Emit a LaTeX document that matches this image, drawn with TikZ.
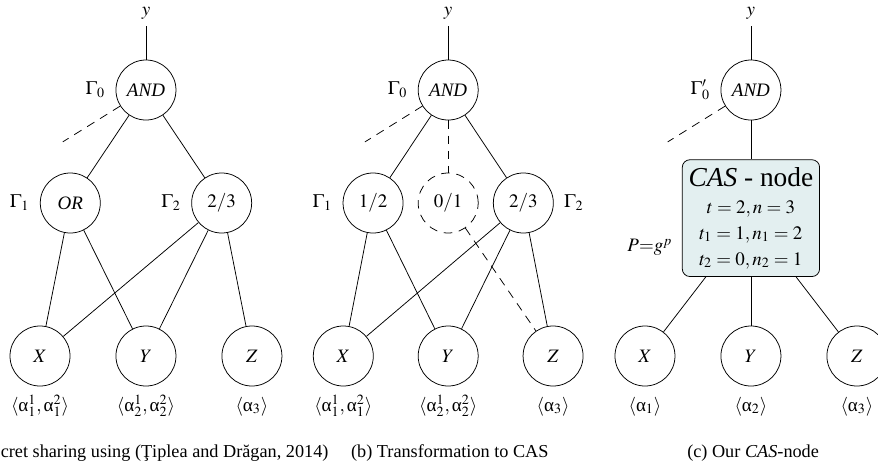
\documentclass[tikz,border=0pt]{standalone}
\usepackage{mathptmx}
\usepackage{fontspec}
\setmainfont{Liberation Serif}
\usepackage{tikz}
\usetikzlibrary{shapes, arrows}
\definecolor{casfill}{RGB}{227,239,240}
\newcommand{\ualpha}{\mbox{α}}
\tikzstyle{gate} = [circle, minimum size=1.11cm, inner sep=0pt, text centered, draw=black]
\tikzstyle{dgate} = [gate, dash pattern=on 4.5pt off 3.5pt]
\tikzstyle{cas} = [rectangle, rounded corners, minimum width=2.52cm, minimum height=2.16cm, align=center, draw=black, fill=casfill]
\tikzstyle{edge} = [thin]
\tikzstyle{cut} = [thin, dash pattern=on 4.5pt off 3.5pt]
\tikzstyle{share} = [anchor=base, label distance=13pt]
\tikzstyle{caption} = [anchor=base, font=\fontsize{9.6}{11}\selectfont]

\begin{document}
\begin{tikzpicture}[node distance=2.09cm]
\useasboundingbox (0,0) rectangle (16.24,-8.73);

% (a)
\node (and1) [gate, label={[label distance=2pt]left:$\Gamma_0$}] at (2.70,-1.665) {\textit{AND}};
\node (out1) [above of=and1, node distance=1.42cm] {$y$};
\node (or1) [gate, below of=and1, xshift=-1.4cm, label={[label distance=2pt]left:$\Gamma_1$}] {\textit{OR}};
\node (tt1) [gate, below of=and1, xshift=1.4cm, label={[label distance=2pt]left:$\Gamma_2$}] {$2/3$};
\node (xa) [gate, below of=and1, node distance=4.92cm, xshift=-1.96cm, label={[share]below:$\langle\ualpha_1^1,\ualpha_1^2\rangle$}] {$X$};
\node (ya) [gate, below of=and1, node distance=4.92cm, label={[share]below:$\langle\ualpha_2^1,\ualpha_2^2\rangle$}] {$Y$};
\node (za) [gate, below of=and1, node distance=4.92cm, xshift=1.96cm, label={[share]below:$\langle\ualpha_3\rangle$}] {$Z$};
\path (and1) ++(-1.54,-0.96) coordinate (cut1);

\draw [edge] (out1) -- (and1);
\draw [cut] (and1) -- (cut1);
\draw [edge] (and1) -- (or1);
\draw [edge] (and1) -- (tt1);
\draw [edge] (or1) -- (xa);
\draw [edge] (or1) -- (ya);
\draw [edge] (tt1) -- (xa);
\draw [edge] (tt1) -- (ya);
\draw [edge] (tt1) -- (za);

% (b)
\node (and2) [gate, label={[label distance=2pt]left:$\Gamma_0$}] at (8.29,-1.665) {\textit{AND}};
\node (out2) [above of=and2, node distance=1.42cm] {$y$};
\node (hf2) [gate, below of=and2, xshift=-1.39cm, label={[label distance=2pt]left:$\Gamma_1$}] {$1/2$};
\node (zo2) [dgate, below of=and2] {$0/1$};
\node (tt2) [gate, below of=and2, xshift=1.39cm, label={[label distance=2pt]right:$\Gamma_2$}] {$2/3$};
\node (xb) [gate, below of=and2, node distance=4.92cm, xshift=-1.94cm, label={[share]below:$\langle\ualpha_1^1,\ualpha_1^2\rangle$}] {$X$};
\node (yb) [gate, below of=and2, node distance=4.92cm, label={[share]below:$\langle\ualpha_2^1,\ualpha_2^2\rangle$}] {$Y$};
\node (zb) [gate, below of=and2, node distance=4.92cm, xshift=1.94cm, label={[share]below:$\langle\ualpha_3\rangle$}] {$Z$};
\path (and2) ++(-1.54,-0.96) coordinate (cut2);

\draw [edge] (out2) -- (and2);
\draw [cut] (and2) -- (cut2);
\draw [edge] (and2) -- (hf2);
\draw [cut] (and2) -- (zo2);
\draw [edge] (and2) -- (tt2);
\draw [edge] (hf2) -- (xb);
\draw [edge] (hf2) -- (yb);
\draw [edge] (tt2) -- (xb);
\draw [edge] (tt2) -- (yb);
\draw [edge] (tt2) -- (zb);
\draw [cut] (zo2) -- (zb);

% (c)
\node (and3) [gate, label={[label distance=2pt]left:$\Gamma_0'$}] at (13.89,-1.665) {\textit{AND}};
\node (out3) [above of=and3, node distance=1.42cm] {$y$};
\node (cas3) [cas, below of=and3, node distance=2.37cm] {{\Large\textit{CAS} - node}\\[2pt] $t=2,n=3$\\[1.7pt] $t_1=1,n_1=2$\\[1.7pt] $t_2=0,n_2=1$};
\node (pub3) [left of=cas3, node distance=1.87cm, yshift=-0.54cm] {$P{=}g^p$};
\node (xc) [gate, below of=and3, node distance=4.92cm, xshift=-1.96cm, label={[share]below:$\langle\ualpha_1\rangle$}] {$X$};
\node (yc) [gate, below of=and3, node distance=4.92cm, label={[share]below:$\langle\ualpha_2\rangle$}] {$Y$};
\node (zc) [gate, below of=and3, node distance=4.92cm, xshift=1.96cm, label={[share]below:$\langle\ualpha_3\rangle$}] {$Z$};
\path (and3) ++(-1.54,-0.96) coordinate (cut3);

\draw [edge] (out3) -- (and3);
\draw [cut] (and3) -- (cut3);
\draw [edge] (and3) -- (cas3);
\draw [edge] (cas3) -- (xc);
\draw [edge] (cas3) -- (yc);
\draw [edge] (cas3) -- (zc);

% captions
\node (capa) [caption, anchor=base east] at (6.20,-8.46) {cret sharing using (Ţiplea and Drăgan, 2014)};
\node (capb) [caption] at (8.32,-8.46) {(b) Transformation to CAS};
\node (capc) [caption] at (13.93,-8.46) {(c) Our \textit{CAS}-node};

\end{tikzpicture}
\end{document}
